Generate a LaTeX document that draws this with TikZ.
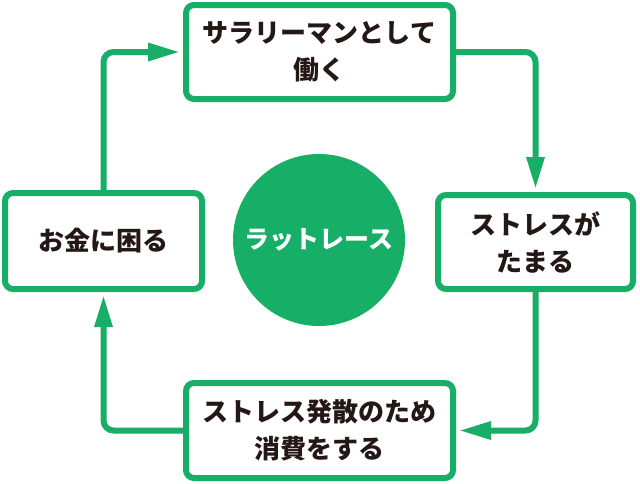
\documentclass[tikz,border=0pt]{standalone}
\usepackage{fontspec}
\setmainfont{Noto Sans CJK JP}[BoldFont={Noto Sans CJK JP Black}]
\usetikzlibrary{arrows.meta}
\definecolor{racegreen}{RGB}{23,174,103}
\definecolor{inkdark}{RGB}{35,24,21}
\tikzset{
  stage/.style={draw=racegreen, line width=3pt, rounded corners=4pt, fill=white, align=center,
    text=inkdark, font=\bfseries\fontsize{13}{18.5}\selectfont, inner sep=0pt},
  flow/.style={draw=racegreen, line width=3pt, rounded corners=5pt,
    -{Triangle[length=16pt,width=8.5pt]}, shorten >=1.5pt}
}
\begin{document}
\begin{tikzpicture}[x=0.5pt, y=-0.5pt]
        \useasboundingbox (0,0) rectangle (640,483);
        % Nodes (clockwise from top)
        \node (work)  at (319.5,52)  [stage, minimum width=133.5pt, minimum height=47pt] {サラリーマンとして\\働く};
        \node (stress) at (535.5,242) [stage, minimum width=97.5pt, minimum height=47pt] {ストレスが\\たまる};
        \node (spend) at (319.5,430.5) [stage, minimum width=133.5pt, minimum height=47.5pt] {ストレス発散のため\\消費をする};
        \node (broke) at (103.5,241) [stage, minimum width=98.5pt, minimum height=48pt] {お金に困る};
        \node (race)  at (319,240) [circle, fill=racegreen, minimum size=86pt, inner sep=0pt, text=white,
          font=\bfseries\fontsize{12.5}{14}\selectfont] {ラットレース};
        % Edges
        \draw[flow] (broke.north) |- (work.west);
        \draw[flow] (work.east) -| (stress.north);
        \draw[flow] (stress.south) |- (spend.east);
        \draw[flow] (spend.west) -| (broke.south);
      \end{tikzpicture}
\end{document}
